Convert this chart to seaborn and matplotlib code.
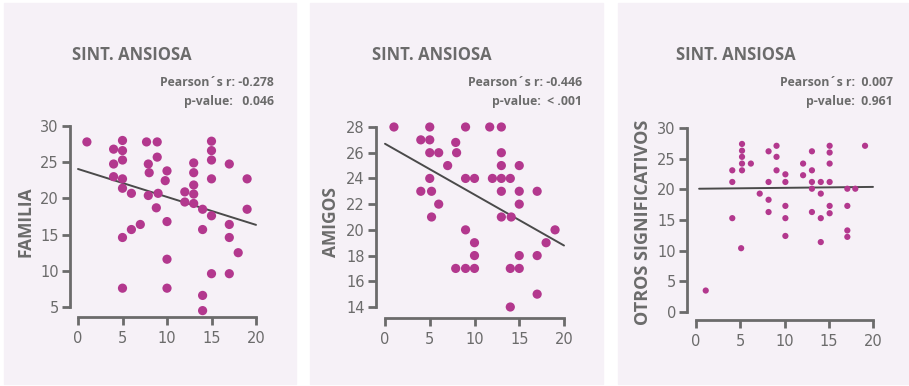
import numpy as np
import pandas as pd
import seaborn as sns
import matplotlib.pyplot as plt
from matplotlib.patches import Rectangle

# data
fam_x = [1, 4, 5, 5, 5, 4, 4, 5, 5, 6, 5, 6, 7, 5,
         7.7, 8.9, 8.9, 7.9, 8, 7.9, 9, 8.8, 10, 9.8, 10, 10, 10,
         12, 12, 13, 13, 13, 13, 13, 14, 14, 14, 14,
         15, 15, 15, 15, 15, 15, 17, 17, 17, 17, 18, 19, 19]
fam_y = [27.8, 26.8, 28, 26.6, 25.3, 24.75, 23, 22.7, 21.4, 20.7, 14.6, 15.7, 16.4, 7.6,
         27.8, 27.8, 25.7, 24.75, 23.55, 20.4, 20.7, 18.7, 23.8, 22.45, 16.8, 11.6, 7.6,
         20.9, 19.5, 24.9, 23.55, 21.85, 20.6, 19.3, 18.5, 15.7, 6.6, 4.5,
         27.9, 26.6, 25.3, 22.7, 17.6, 9.6, 24.75, 16.4, 14.6, 9.6, 12.5, 22.7, 18.5]

ami_x = [1, 5, 9, 11.7, 13, 4, 5, 7.9, 5, 6, 8, 7, 13, 13, 15,
         5, 9, 10, 12, 13, 14, 4, 5.2, 13, 15, 17, 6, 15, 5.2, 13, 14.1,
         9, 19, 10, 18, 10, 15, 17, 7.9, 9, 10, 14, 15, 17, 14]
ami_y = [28, 28, 28, 28, 28, 27, 27, 26.8, 26, 26, 26, 25, 26, 25, 25,
         24, 24, 24, 24, 24, 24, 23, 23, 23, 23, 23, 22, 22, 21, 21, 21,
         20, 20, 19, 19, 18, 18, 18, 17, 17, 17, 17, 17, 15, 14]

otr_x = [1.1, 4.1, 4.1, 4.1, 5.2, 5.2, 5.2, 5.2, 5.2, 5.1, 6.2, 7.2,
         8.2, 8.2, 8.2, 8.2, 9.1, 9.1, 9.1, 10.1, 10.1, 10.1, 10.1, 10.1,
         12.1, 12.1, 13.1, 13.1, 13.1, 13.1, 13.1, 14.1, 14.1, 14.1, 14.1,
         15.1, 15.1, 15.1, 15.1, 15.1, 15.1, 17.1, 17.1, 17.1, 17.1, 18, 19.1]
otr_y = [3.5, 23.1, 21.2, 15.3, 27.4, 26.3, 25.3, 24.2, 23.1, 10.4, 24.2, 19.3,
         26.2, 21.2, 18.3, 16.3, 27.1, 25.3, 23.1, 22.45, 21.2, 17.3, 15.3, 12.4,
         24.2, 22.3, 26.2, 23.1, 21.2, 20.1, 16.3, 21.2, 19.3, 15.3, 11.4,
         27.1, 26.0, 24.2, 21.2, 17.3, 16.1, 20.1, 17.3, 13.3, 12.25, 20.1, 27.1]

labels = ["FAMILIA", "AMIGOS", "OTROS SIGNIFICATIVOS"]
pearson = ["Pearson´s r: -0.278", "Pearson´s r: -0.446", "Pearson´s r:  0.007"]
pvalues = ["p-value:   0.046", "p-value:  < .001", "p-value:  0.961"]
yticks = [[5, 10, 15, 20, 25, 30], [14, 16, 18, 20, 22, 24, 26, 28], [0, 5, 10, 15, 20, 25, 30]]

W, H = 909, 386
GRAY = "#6b6b6b"
DOT = "#b3388e"
BG = "#f6f1f7"

sns.set_style("white")
plt.rcParams["font.family"] = ["DejaVu Sans"]

fig = plt.figure(figsize=(W / 100, H / 100), dpi=100)
fig.patch.set_facecolor("white")

# panel boxes (left, top, right, bottom) in pixels
panels = [(4, 3, 296, 384), (310, 3, 603, 384), (618, 3, 908, 384)]
for l, t, r, b in panels:
    fig.patches.append(Rectangle((l / W, 1 - b / H), (r - l) / W, (b - t) / H,
                                 transform=fig.transFigure, color=BG, zorder=-5))

# pixel anchors: x 0->px, 20->px ; y lo->px, hi->px ; axes box
setup = [
    dict(x=fam_x, y=fam_y, xpx=(78, 256), ylo=5, yhi=30, ypx=(307, 126),
         box=(70, 116, 264, 317), s=44, lx=26, ls=12.5, tx=72, rx=274, x0=0),
    dict(x=ami_x, y=ami_y, xpx=(385, 564), ylo=14, yhi=28, ypx=(307, 127),
         box=(376, 116, 572, 318), s=44, lx=331, ls=12.5, tx=372, rx=582, x0=0),
    dict(x=otr_x, y=otr_y, xpx=(696, 873), ylo=0, yhi=30, ypx=(312, 128),
         box=(687, 118, 881, 320), s=20, lx=643, ls=13, tx=676, rx=893, x0=0.35),
]

for i, p in enumerate(setup):
    l, t, r, b = p["box"]
    ax = fig.add_axes([l / W, 1 - b / H, (r - l) / W, (b - t) / H])
    ax.patch.set_alpha(0)
    sx = (p["xpx"][1] - p["xpx"][0]) / 20
    sy = (p["ypx"][0] - p["ypx"][1]) / (p["yhi"] - p["ylo"])
    ax.set_xlim(0 + (l - p["xpx"][0]) / sx, 0 + (r - p["xpx"][0]) / sx)
    ax.set_ylim(p["ylo"] - (b - p["ypx"][0]) / sy, p["ylo"] + (p["ypx"][0] - t) / sy)

    df = pd.DataFrame({"x": p["x"], "y": p["y"]})
    sns.scatterplot(data=df, x="x", y="y", ax=ax, color=DOT, s=p["s"],
                    edgecolor="none", clip_on=False, zorder=3)
    slope, icpt = np.polyfit(df["x"], df["y"], 1)
    xs = np.array([p["x0"], 20])
    ax.plot(xs, icpt + slope * xs, color="#4a4a4a", lw=1.4, zorder=2)

    for side in ["top", "right"]:
        ax.spines[side].set_visible(False)
    for side in ["left", "bottom"]:
        ax.spines[side].set_color(GRAY)
        ax.spines[side].set_linewidth(2)
    ax.spines["left"].set_bounds(p["ylo"], p["yhi"])
    ax.spines["bottom"].set_bounds(0, 20)
    ax.set_xticks([0, 5, 10, 15, 20])
    ax.set_yticks(yticks[i])
    ax.tick_params(axis="both", colors=GRAY, labelcolor=GRAY, labelsize=10.5,
                   length=6, width=2, direction="out", left=True, bottom=True)
    ax.tick_params(axis="y", pad=2)
    ax.tick_params(axis="x", pad=4)
    ax.set_xlabel("")
    ax.set_ylabel("")

    fig.text(p["lx"] / W, 1 - 222 / H, labels[i], rotation=90, ha="center", va="center",
             color=GRAY, fontsize=p["ls"], fontweight="bold", family=["Open Sans", "DejaVu Sans"])
    fig.text(p["tx"] / W, 1 - 55 / H, "SINT. ANSIOSA", ha="left", va="center",
             color=GRAY, fontsize=12, fontweight="bold", family=["Open Sans", "DejaVu Sans"])
    fig.text(p["rx"] / W, 1 - 82 / H, pearson[i], ha="right", va="center",
             color=GRAY, fontsize=8.8, fontweight="bold", family=["Open Sans", "DejaVu Sans"])
    fig.text(p["rx"] / W, 1 - 102 / H, pvalues[i], ha="right", va="center",
             color=GRAY, fontsize=8.8, fontweight="bold", family=["Open Sans", "DejaVu Sans"])

fig.savefig("out.png", dpi=100)
